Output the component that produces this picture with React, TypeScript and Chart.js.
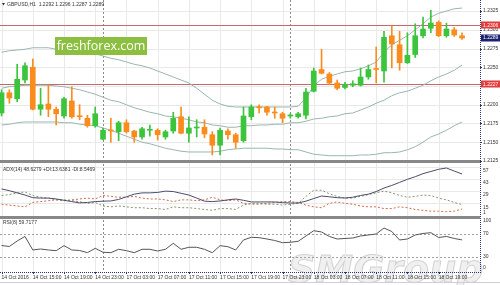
import React, { useEffect, useRef } from 'react';
import { Chart, registerables } from 'chart.js';

Chart.register(...registerables);

// ---------- data ----------
const headerText = 'GBPUSD,H1  1.2292 1.2296 1.2287 1.2289';
const adxText = 'ADX(14) 48.6279 +DI:13.6381 -DI:8.5469';
const rsiText = 'RSI(8) 59.7177';
const logoText = 'freshforex.com';
const watermarkText = 'SMGroup';

const timeLabels = [
  '14 Oct 2016', '14 Oct 15:00', '14 Oct 19:00', '14 Oct 23:00', '17 Oct 03:00',
  '17 Oct 07:00', '17 Oct 11:00', '17 Oct 15:00', '17 Oct 19:00', '17 Oct 23:00',
  '18 Oct 03:00', '18 Oct 07:00', '18 Oct 11:00', '18 Oct 15:00', '18 Oct 19:00',
];
const labelEvery = 4;
const daySeparators = [13, 37];

const openP = [
  1.2189, 1.2216, 1.2208, 1.2233, 1.2250, 1.2194, 1.2201, 1.2194, 1.2185, 1.2205,
  1.2185, 1.2182, 1.2172, 1.2154, 1.2166, 1.2164, 1.2176, 1.2165, 1.2157, 1.2166,
  1.2166, 1.2157, 1.2165, 1.2184, 1.2162, 1.2169, 1.2170, 1.2160, 1.2146, 1.2165,
  1.2160, 1.2152, 1.2184, 1.2197, 1.2197, 1.2190, 1.2188, 1.2185, 1.2184, 1.2186,
  1.2218, 1.2247, 1.2241, 1.2229, 1.2223, 1.2226, 1.2226, 1.2237, 1.2248, 1.2245,
  1.2292, 1.2280, 1.2256, 1.2267, 1.2292, 1.2302, 1.2310, 1.2292, 1.2300, 1.2292,
];
const highP = [
  1.2220, 1.2220, 1.2254, 1.2256, 1.2261, 1.2222, 1.2226, 1.2197, 1.2210, 1.2224,
  1.2200, 1.2186, 1.2197, 1.2169, 1.2182, 1.2178, 1.2180, 1.2166, 1.2170, 1.2173,
  1.2168, 1.2166, 1.2190, 1.2197, 1.2184, 1.2180, 1.2180, 1.2164, 1.2169, 1.2168,
  1.2162, 1.2197, 1.2200, 1.2200, 1.2198, 1.2197, 1.2190, 1.2188, 1.2190, 1.2222,
  1.2249, 1.2274, 1.2243, 1.2233, 1.2230, 1.2232, 1.2249, 1.2253, 1.2277, 1.2298,
  1.2305, 1.2298, 1.2296, 1.2308, 1.2317, 1.2326, 1.2312, 1.2309, 1.2303, 1.2296,
];
const lowP = [
  1.2185, 1.2202, 1.2204, 1.2229, 1.2193, 1.2186, 1.2184, 1.2173, 1.2182, 1.2182,
  1.2180, 1.2170, 1.2170, 1.2153, 1.2150, 1.2152, 1.2162, 1.2150, 1.2154, 1.2158,
  1.2153, 1.2154, 1.2162, 1.2161, 1.2150, 1.2157, 1.2156, 1.2133, 1.2133, 1.2154,
  1.2142, 1.2150, 1.2180, 1.2189, 1.2186, 1.2182, 1.2176, 1.2182, 1.2182, 1.2181,
  1.2217, 1.2241, 1.2227, 1.2220, 1.2221, 1.2224, 1.2225, 1.2234, 1.2229, 1.2230,
  1.2249, 1.2246, 1.2255, 1.2263, 1.2289, 1.2296, 1.2291, 1.2290, 1.2291, 1.2287,
];
const closeP = [
  1.2216, 1.2209, 1.2234, 1.2252, 1.2194, 1.2200, 1.2194, 1.2188, 1.2208, 1.2184,
  1.2184, 1.2172, 1.2188, 1.2166, 1.2165, 1.2176, 1.2164, 1.2157, 1.2168, 1.2167,
  1.2160, 1.2164, 1.2182, 1.2162, 1.2169, 1.2169, 1.2161, 1.2146, 1.2166, 1.2160,
  1.2150, 1.2185, 1.2197, 1.2196, 1.2190, 1.2189, 1.2182, 1.2185, 1.2188, 1.2217,
  1.2245, 1.2242, 1.2229, 1.2222, 1.2227, 1.2228, 1.2237, 1.2247, 1.2247, 1.2290,
  1.2281, 1.2256, 1.2266, 1.2292, 1.2301, 1.2309, 1.2292, 1.2301, 1.2293, 1.2289,
];

const bbUpper = [
  1.2270, 1.2272, 1.2273, 1.2274, 1.2276, 1.2276, 1.2276, 1.2274, 1.2273, 1.2272,
  1.2270, 1.2269, 1.2268, 1.2265, 1.2262, 1.2260, 1.2257, 1.2254, 1.2252, 1.2249,
  1.2245, 1.2241, 1.2237, 1.2233, 1.2229, 1.2222, 1.2214, 1.2206, 1.2201, 1.2198,
  1.2197, 1.2197, 1.2197, 1.2197, 1.2197, 1.2197, 1.2197, 1.2197, 1.2198, 1.2209,
  1.2225, 1.2234, 1.2238, 1.2241, 1.2244, 1.2245, 1.2248, 1.2252, 1.2257, 1.2270,
  1.2280, 1.2286, 1.2292, 1.2300, 1.2308, 1.2317, 1.2322, 1.2325, 1.2328, 1.2329,
];
const bbMiddle = [
  1.2222, 1.2224, 1.2225, 1.2226, 1.2226, 1.2226, 1.2226, 1.2225, 1.2224, 1.2222,
  1.2220, 1.2217, 1.2214, 1.2210, 1.2206, 1.2204, 1.2200, 1.2196, 1.2193, 1.2190,
  1.2188, 1.2185, 1.2184, 1.2182, 1.2180, 1.2177, 1.2176, 1.2173, 1.2172, 1.2170,
  1.2170, 1.2172, 1.2172, 1.2173, 1.2173, 1.2174, 1.2174, 1.2176, 1.2176, 1.2178,
  1.2181, 1.2182, 1.2184, 1.2185, 1.2188, 1.2189, 1.2193, 1.2197, 1.2202, 1.2206,
  1.2212, 1.2216, 1.2218, 1.2222, 1.2226, 1.2232, 1.2237, 1.2241, 1.2246, 1.2253,
];
const bbLower = [
  1.2173, 1.2174, 1.2176, 1.2177, 1.2177, 1.2177, 1.2177, 1.2177, 1.2176, 1.2176,
  1.2174, 1.2173, 1.2172, 1.2169, 1.2166, 1.2162, 1.2158, 1.2154, 1.2150, 1.2148,
  1.2145, 1.2142, 1.2140, 1.2138, 1.2137, 1.2137, 1.2137, 1.2137, 1.2138, 1.2140,
  1.2141, 1.2142, 1.2142, 1.2142, 1.2142, 1.2141, 1.2141, 1.2140, 1.2140, 1.2137,
  1.2134, 1.2133, 1.2132, 1.2132, 1.2132, 1.2132, 1.2133, 1.2133, 1.2134, 1.2136,
  1.2136, 1.2137, 1.2140, 1.2144, 1.2150, 1.2157, 1.2161, 1.2166, 1.2172, 1.2177,
];

const adxLine = [
  31.5, 29.5, 27, 24.5, 21.5, 21, 21, 20, 18.5, 17,
  15.5, 16, 17, 17.5, 17.7, 19.5, 22.5, 25.5, 27, 27,
  27.5, 29, 28.5, 26.5, 24.5, 21, 17.5, 17, 17.7, 19,
  20, 18.5, 16.6, 16.6, 16.6, 16.6, 15.8, 15.4, 15.4, 17.5,
  20.5, 23.4, 22.5, 21.5, 21.1, 22, 24, 25.5, 28.5, 32.5,
  35.5, 39, 42.5, 45.5, 49, 51.5, 54, 55.5, 52, 48.6,
];
const plusDI = [
  24, 25, 27, 28, 24, 22, 21, 19, 19, 18,
  17, 15, 16, 12, 11, 12, 11, 10, 10, 9,
  9, 8, 11, 10, 10, 9, 8, 7, 9, 9,
  8, 13, 15, 15, 14, 14, 13, 14, 15, 23,
  30, 30, 26, 23, 21, 21, 23, 25, 27, 29,
  27, 24, 22, 23, 24.5, 24, 21, 19, 16, 13.6,
];
const minusDI = [
  14, 13, 12, 11, 16, 17, 18, 19, 18, 19,
  20, 21, 20, 24, 23, 22, 22, 23, 21, 20,
  20, 19, 17, 19, 19, 18, 19, 22, 19, 18,
  19, 15, 14, 14, 15, 16, 17, 17, 16, 13,
  11, 10, 15, 16.6, 15, 14, 12, 11, 11, 9,
  9, 11, 10, 8, 7, 6, 6, 5.5, 6, 8.5,
];
const rsiLine = [
  50.0, 48.3, 57.8, 65.7, 42.2, 43.9, 42.2, 41.0, 49.7, 42.2,
  41.3, 37.5, 45.1, 38.2, 37.5, 43.4, 41.0, 37.5, 43.4, 43.4,
  40.4, 43.4, 53.8, 43.4, 46.9, 46.9, 43.4, 37.5, 49.7, 47.9,
  42.2, 59.6, 64.3, 63.6, 61.3, 58.7, 54.9, 55.6, 57.3, 66.5,
  75.7, 73.5, 65.7, 61.3, 62.2, 63.0, 66.5, 68.3, 70.0, 80.4,
  74.3, 59.6, 61.3, 68.3, 70.9, 72.3, 63.9, 65.7, 62.2, 59.7,
];

const priceTicks = [1.2325, 1.23, 1.2275, 1.225, 1.2225, 1.22, 1.2175, 1.215, 1.2125];
const adxTicks = [57, 43, 29, 15, 1];
const rsiTicks = [100, 70, 30, 0];
const rsiLevels = [70, 30];
const redLevels = [1.2306, 1.2227];

// ---------- styling ----------
const FONT = '"Liberation Sans", Arial, sans-serif';
const UP = '#3cc43c';
const DOWN = '#fa8c1e';
const BB = '#9ab6b0';

function hline(ctx: any, x1: number, x2: number, y: number) {
  ctx.beginPath();
  ctx.moveTo(x1, y);
  ctx.lineTo(x2, y);
  ctx.stroke();
}
function vline(ctx: any, x: number, y1: number, y2: number) {
  ctx.beginPath();
  ctx.moveTo(x, y1);
  ctx.lineTo(x, y2);
  ctx.stroke();
}

const mt4Plugin = {
  id: 'mt4',
  beforeDatasetsDraw(chart: any) {
    const { ctx, chartArea: ca, scales } = chart;
    const xs = scales.x, ym = scales.y, ya = scales.yAdx, yr = scales.yRsi;
    ctx.save();
    // watermark
    ctx.font = `italic bold 38px "DejaVu Sans"`;
    ctx.textAlign = 'left';
    ctx.textBaseline = 'alphabetic';
    ctx.fillStyle = 'rgba(228,228,228,0.55)';
    ctx.fillText(watermarkText, 288, 282);
    ctx.strokeStyle = 'rgba(165,165,165,0.45)';
    ctx.lineWidth = 1;
    ctx.strokeText(watermarkText, 288, 282);

    // vertical grid
    ctx.strokeStyle = '#e9e9e9';
    ctx.lineWidth = 1;
    for (let k = 0; k < timeLabels.length; k++) {
      const x = Math.round(xs.getPixelForValue(k * labelEvery)) + 0.5;
      vline(ctx, x, ca.top, ca.bottom);
    }
    // horizontal grid
    priceTicks.forEach((v) => {
      const y = Math.round(ym.getPixelForValue(v)) + 0.5;
      if (y < ym.bottom - 3) hline(ctx, ca.left, ca.right, y);
    });
    adxTicks.forEach((v) => {
      const y = Math.round(ya.getPixelForValue(v)) + 0.5;
      if (y > ya.top + 3 && y < ya.bottom) hline(ctx, ca.left, ca.right, y);
    });
    // rsi levels
    ctx.strokeStyle = '#a0a0a0';
    ctx.setLineDash([2, 2]);
    rsiLevels.forEach((v) => {
      const y = Math.round(yr.getPixelForValue(v)) + 0.5;
      hline(ctx, ca.left, ca.right, y);
    });
    // period separators
    ctx.strokeStyle = '#8a8a8a';
    daySeparators.forEach((i) => {
      const x = Math.round(xs.getPixelForValue(i)) + 0.5;
      vline(ctx, x, ca.top, ca.bottom);
    });
    ctx.setLineDash([]);
    // red horizontal levels
    ctx.strokeStyle = '#c86868';
    redLevels.forEach((v) => {
      const y = Math.round(ym.getPixelForValue(v)) + 0.5;
      hline(ctx, ca.left, ca.right, y);
    });
    ctx.restore();
  },
  afterDatasetsDraw(chart: any) {
    const { ctx, chartArea: ca, scales } = chart;
    const xs = scales.x, ym = scales.y, ya = scales.yAdx, yr = scales.yRsi;
    ctx.save();
    // panel separators
    ctx.fillStyle = '#888888';
    ctx.fillRect(0, ym.bottom - 3, ca.right, 3);
    ctx.fillRect(0, ya.bottom, ca.right, 3);

    // logo
    ctx.fillStyle = '#8cbf3f';
    ctx.fillRect(55, 37, 92, 18);
    ctx.fillStyle = '#ffffff';
    ctx.font = `12.5px "Open Sans"`;
    ctx.textAlign = 'center';
    ctx.textBaseline = 'middle';
    ctx.fillText(logoText, 101, 46.5);

    // header / indicator titles
    ctx.font = `5px ${FONT}`;
    ctx.textAlign = 'left';
    ctx.fillStyle = '#333';
    ctx.beginPath();
    ctx.moveTo(2, 3);
    ctx.lineTo(5, 3);
    ctx.lineTo(3.5, 5.5);
    ctx.closePath();
    ctx.fill();
    ctx.fillText(headerText, 7, 4.5);
    ctx.fillText(adxText, 3, ya.top + 7);
    ctx.fillText(rsiText, 3, yr.top + 7);

    // axis lines
    ctx.strokeStyle = '#2a3470';
    ctx.setLineDash([1, 1]);
    vline(ctx, ca.right + 0.5, ca.top, ca.bottom + 1);
    hline(ctx, ca.left, ca.right, ca.bottom + 0.5);
    ctx.setLineDash([]);

    // right labels
    ctx.textAlign = 'left';
    ctx.textBaseline = 'middle';
    ctx.fillStyle = '#333';
    ctx.strokeStyle = '#2a3470';
    const rx = ca.right + 3;
    priceTicks.forEach((v) => {
      const y = ym.getPixelForValue(v);
      hline(ctx, ca.right, ca.right + 2, Math.round(y) + 0.5);
      ctx.fillText(v.toFixed(4), rx, y);
    });
    adxTicks.forEach((v) => {
      let y = ya.getPixelForValue(v) + 4;
      y = Math.max(ym.bottom + 4, Math.min(ya.bottom - 3, y));
      ctx.fillText(String(v), rx, y);
    });
    rsiTicks.forEach((v) => {
      let y = yr.getPixelForValue(v);
      y = Math.max(ya.bottom + 5, Math.min(yr.bottom - 4, y));
      ctx.fillText(String(v), rx, y);
    });
    // level boxes
    const box = (v: number, color: string) => {
      const y = ym.getPixelForValue(v);
      ctx.fillStyle = color;
      ctx.fillRect(ca.right + 1, Math.round(y) - 3.5, 19, 7);
      ctx.fillStyle = '#ffffff';
      ctx.fillText(v.toFixed(4), rx, y);
    };
    redLevels.forEach((v) => box(v, '#e23b3b'));
    box(closeP[closeP.length - 1], '#1c2170');

    // x labels
    ctx.fillStyle = '#333';
    ctx.strokeStyle = '#2a3470';
    timeLabels.forEach((t, k) => {
      const x = xs.getPixelForValue(k * labelEvery);
      vline(ctx, Math.round(x) + 0.5, ca.bottom, ca.bottom + 2);
      ctx.fillText(t, x, ca.bottom + 5.5);
    });

    // bottom strip
    ctx.fillStyle = '#d0d0d0';
    ctx.fillRect(0, 282, 500, 1);
    ctx.restore();
  },
};

export default function App() {
  const ref = useRef<HTMLCanvasElement>(null);
  useEffect(() => {
    document.body.style.margin = '0';
    const canvas = ref.current;
    if (!canvas) return;
    const idx = openP.map((_, i) => i);
    const pts = (arr: number[]) => arr.map((v, i) => ({ x: i, y: v }));
    const candleColors = idx.map((i) => (closeP[i] >= openP[i] ? UP : DOWN));
    const chart = new Chart(canvas, {
      type: 'bar',
      data: {
        datasets: [
          {
            type: 'bar',
            data: idx.map((i) => ({ x: i, y: [openP[i], closeP[i]] })) as any,
            backgroundColor: candleColors,
            barThickness: 5,
            minBarLength: 1,
            grouped: false,
            yAxisID: 'y',
            order: 1,
          } as any,
          {
            type: 'bar',
            data: idx.map((i) => ({ x: i, y: [lowP[i], highP[i]] })) as any,
            backgroundColor: candleColors,
            barThickness: 1,
            grouped: false,
            yAxisID: 'y',
            order: 2,
          } as any,
          { type: 'line', data: pts(bbUpper), borderColor: BB, borderWidth: 1, pointRadius: 0, yAxisID: 'y', order: 3 } as any,
          { type: 'line', data: pts(bbMiddle), borderColor: BB, borderWidth: 1, pointRadius: 0, yAxisID: 'y', order: 3 } as any,
          { type: 'line', data: pts(bbLower), borderColor: BB, borderWidth: 1, pointRadius: 0, yAxisID: 'y', order: 3 } as any,
          { type: 'line', data: pts(plusDI), borderColor: '#7f9a6a', borderWidth: 1, borderDash: [2, 2], pointRadius: 0, yAxisID: 'yAdx', order: 4 } as any,
          { type: 'line', data: pts(minusDI), borderColor: '#d2694c', borderWidth: 1, borderDash: [2, 2], pointRadius: 0, yAxisID: 'yAdx', order: 4 } as any,
          { type: 'line', data: pts(adxLine), borderColor: '#4b4b6e', borderWidth: 1, pointRadius: 0, yAxisID: 'yAdx', order: 3 } as any,
          { type: 'line', data: pts(rsiLine), borderColor: '#555555', borderWidth: 1, pointRadius: 0, yAxisID: 'yRsi', order: 3 } as any,
        ],
      },
      options: {
        responsive: false,
        devicePixelRatio: 1,
        animation: false,
        events: [],
        layout: { padding: 0 },
        plugins: { legend: { display: false }, tooltip: { enabled: false } },
        scales: {
          x: {
            type: 'linear',
            min: -0.2,
            max: 61.3,
            offset: false,
            grid: { display: false, offset: false },
            border: { display: false },
            ticks: { display: false },
            afterFit: (s: any) => { s.height = 13; },
          },
          y: {
            type: 'linear',
            position: 'right',
            stack: 'panes',
            stackWeight: 163,
            min: 1.21223,
            max: 1.23397,
            grid: { display: false },
            border: { display: false },
            ticks: { display: false },
            afterFit: (s: any) => { s.width = 20; },
          },
          yAdx: {
            type: 'linear',
            position: 'right',
            stack: 'panes',
            stackWeight: 53,
            min: 0.5,
            max: 61.2,
            grid: { display: false },
            border: { display: false },
            ticks: { display: false },
            afterFit: (s: any) => { s.width = 20; },
          },
          yRsi: {
            type: 'linear',
            position: 'right',
            stack: 'panes',
            stackWeight: 56,
            min: 3.9,
            max: 101.3,
            grid: { display: false },
            border: { display: false },
            ticks: { display: false },
            afterFit: (s: any) => { s.width = 20; },
          },
        },
      } as any,
      plugins: [mt4Plugin],
    });
    return () => chart.destroy();
  }, []);
  return (
    <div style={{ width: 500, height: 285, background: '#ffffff' }}>
      <canvas ref={ref} width={500} height={285} style={{ display: 'block' }} />
    </div>
  );
}
